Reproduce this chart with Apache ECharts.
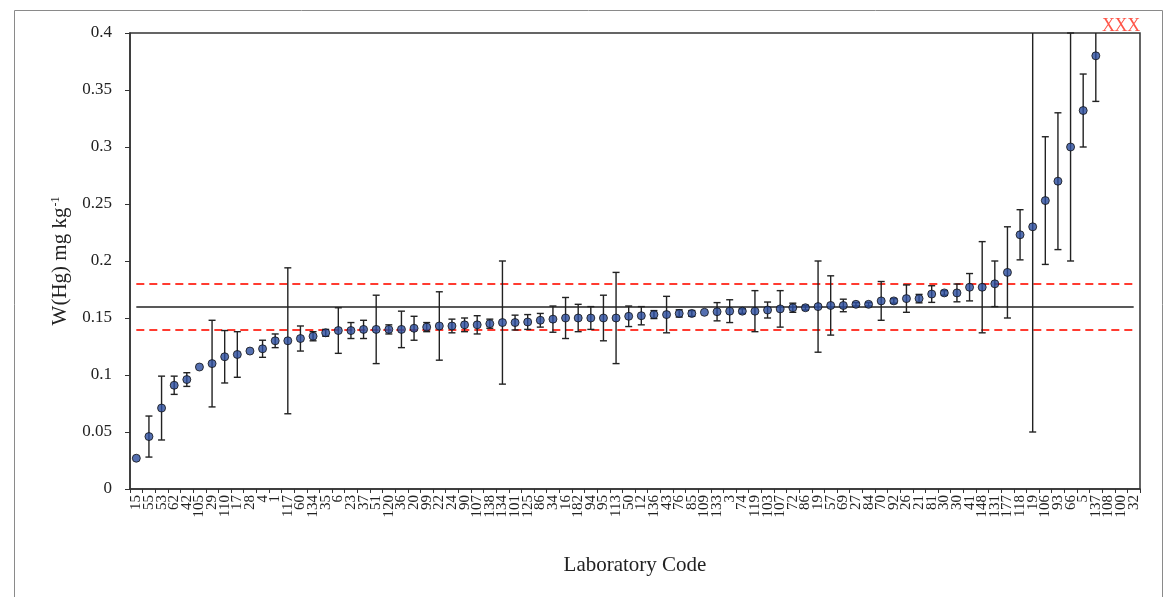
<!DOCTYPE html>
<html>
<head>
<meta charset="utf-8">
<script src="https://cdn.jsdelivr.net/npm/echarts@6/dist/echarts.min.js"></script>
<style>
html,body{margin:0;padding:0;background:#fff;}
#c{width:1165px;height:597px;}
</style>
</head>
<body>
<div id="c"></div>
<script>
// Laboratory codes (x-axis categories)
const labCodes = ['15','55','53','62','42','105','29','110','17','28','4','1','117','60','134','35','6','23','37','51',
  '120','36','20','99','22','24','90','107','138','134','101','125','86','34','16','182','94','95','113','50',
  '12','136','43','76','85','109','133','3','74','119','103','107','72','86','19','57','69','27','84','70',
  '92','26','21','81','30','30','41','148','131','177','118','19','106','93','66','5','137','108','100','32'];

// Reported mass fractions W(Hg), mg/kg (null = off scale, shown as X)
const wHg = [0.027,0.046,0.071,0.091,0.096,0.107,0.110,0.116,0.118,0.121,0.123,0.130,0.130,0.132,0.134,0.137,0.139,0.139,0.140,0.140,
  0.140,0.140,0.141,0.142,0.143,0.143,0.144,0.144,0.145,0.146,0.146,0.1465,0.148,0.149,0.150,0.150,0.150,0.150,0.150,0.1515,
  0.152,0.153,0.153,0.154,0.154,0.155,0.1555,0.156,0.156,0.156,0.157,0.158,0.159,0.159,0.160,0.161,0.161,0.162,0.162,0.165,
  0.165,0.167,0.167,0.171,0.172,0.172,0.177,0.177,0.180,0.190,0.223,0.230,0.253,0.270,0.300,0.332,0.380,null,null,null];

// Expanded uncertainty (half-width of error bar)
const uHg = [0,0.018,0.028,0.008,0.006,0,0.038,0.023,0.020,0,0.0075,0.006,0.064,0.011,0.004,0.003,0.020,0.007,0.008,0.030,
  0.004,0.016,0.0105,0.004,0.030,0.006,0.006,0.008,0.004,0.054,0.0065,0.0065,0.006,0.0115,0.018,0.012,0.010,0.020,0.040,0.009,
  0.008,0.0035,0.016,0.0032,0.0025,0,0.008,0.010,0.002,0.018,0.007,0.016,0.004,0.002,0.040,0.026,0.0055,0.0015,0.0015,0.017,
  0.002,0.012,0.0037,0.0073,0.002,0.0078,0.012,0.040,0.020,0.040,0.022,0.180,0.056,0.060,0.100,0.032,0.040,null,null,null];

const assignedValue = 0.16;
const toleranceLimits = [0.14, 0.18];
const yTicks = {min: 0, max: 0.4, interval: 0.05};
const offScaleMark = 'X';

const serif = "'Liberation Serif','Times New Roman',serif";
const lastIdx = labCodes.length - 1;

const pointData = [];
const barData = [];
const offData = [];
wHg.forEach((v, i) => {
  if (v == null) { offData.push([i, yTicks.max]); return; }
  pointData.push([i, v]);
  if (uHg[i] > 0) barData.push([i, v - uHg[i], v + uHg[i]]);
});

const chart = echarts.init(document.getElementById('c'), null, {renderer: 'canvas'});
chart.setOption({
  animation: false,
  backgroundColor: '#fff',
  graphic: [{
    type: 'rect', left: 12, top: 8, silent: true, z: -1,
    shape: {width: 1148, height: 600},
    style: {fill: 'none', stroke: '#8a8a8a', lineWidth: 1}
  }],
  grid: {left: 130, top: 33, width: 1010, height: 456, show: true,
         borderColor: '#333', borderWidth: 1.5, backgroundColor: 'transparent'},
  xAxis: {
    type: 'category', data: labCodes, boundaryGap: true,
    name: 'Laboratory Code', nameLocation: 'middle', nameGap: 66,
    nameTextStyle: {fontFamily: serif, fontSize: 21, color: '#222'},
    axisLine: {lineStyle: {color: '#333', width: 1.5}},
    axisTick: {show: true, length: 4, lineStyle: {color: '#333'}},
    axisLabel: {interval: 0, rotate: 90, margin: 6, fontFamily: serif, fontSize: 15,
                color: '#222', hideOverlap: false},
    splitLine: {show: false}
  },
  yAxis: {
    type: 'value', min: yTicks.min, max: yTicks.max, interval: yTicks.interval,
    name: 'W(Hg) mg kg{sup|-1}', nameLocation: 'middle', nameGap: 56,
    nameTextStyle: {fontFamily: serif, fontSize: 21, color: '#222',
      rich: {sup: {fontFamily: serif, fontSize: 12, color: '#222', padding: [0, 0, 11, 1]}}},
    axisLine: {show: true, lineStyle: {color: '#333', width: 1.5}},
    axisTick: {show: true, length: 5, lineStyle: {color: '#333'}},
    axisLabel: {margin: 18, fontFamily: serif, fontSize: 17, color: '#222'},
    splitLine: {show: false}
  },
  series: [
    {
      type: 'custom', data: barData, z: 3, silent: true,
      renderItem: function (params, api) {
        const x = api.value(0), lo = api.value(1), hi = api.value(2);
        const pLo = api.coord([x, lo]), pHi = api.coord([x, hi]);
        const cs = params.coordSys;
        const top = cs.y, bottom = cs.y + cs.height;
        const yT = Math.max(pHi[1], top), yB = Math.min(pLo[1], bottom);
        const px = pLo[0], hw = 3.5;
        const st = {stroke: '#222', lineWidth: 1.4};
        const ch = [{type: 'line', shape: {x1: px, y1: yT, x2: px, y2: yB}, style: st}];
        if (pHi[1] >= top - 0.5) ch.push({type: 'line', shape: {x1: px - hw, y1: yT, x2: px + hw, y2: yT}, style: st});
        if (pLo[1] <= bottom + 0.5) ch.push({type: 'line', shape: {x1: px - hw, y1: yB, x2: px + hw, y2: yB}, style: st});
        return {type: 'group', children: ch};
      }
    },
    {
      type: 'scatter', data: pointData, symbol: 'circle', symbolSize: 8, z: 5, silent: true,
      itemStyle: {color: '#2a4c9e', borderColor: '#111', borderWidth: 1},
      markLine: {
        silent: true, symbol: 'none', label: {show: false}, z: 2,
        data: [
          [{coord: [0, assignedValue], lineStyle: {color: '#222', width: 1.5, type: 'solid'}},
           {coord: [lastIdx, assignedValue]}],
          [{coord: [0, toleranceLimits[0]], lineStyle: {color: '#ff3b30', width: 2, type: [8, 5]}},
           {coord: [lastIdx, toleranceLimits[0]]}],
          [{coord: [0, toleranceLimits[1]], lineStyle: {color: '#ff3b30', width: 2, type: [8, 5]}},
           {coord: [lastIdx, toleranceLimits[1]]}]
        ]
      }
    },
    {
      type: 'scatter', data: offData, symbolSize: 0, clip: false, silent: true, z: 6,
      label: {show: true, formatter: offScaleMark, position: 'top', distance: -2,
              fontFamily: serif, fontSize: 18, color: '#ff2a1a'}
    }
  ]
});
</script>
</body>
</html>
